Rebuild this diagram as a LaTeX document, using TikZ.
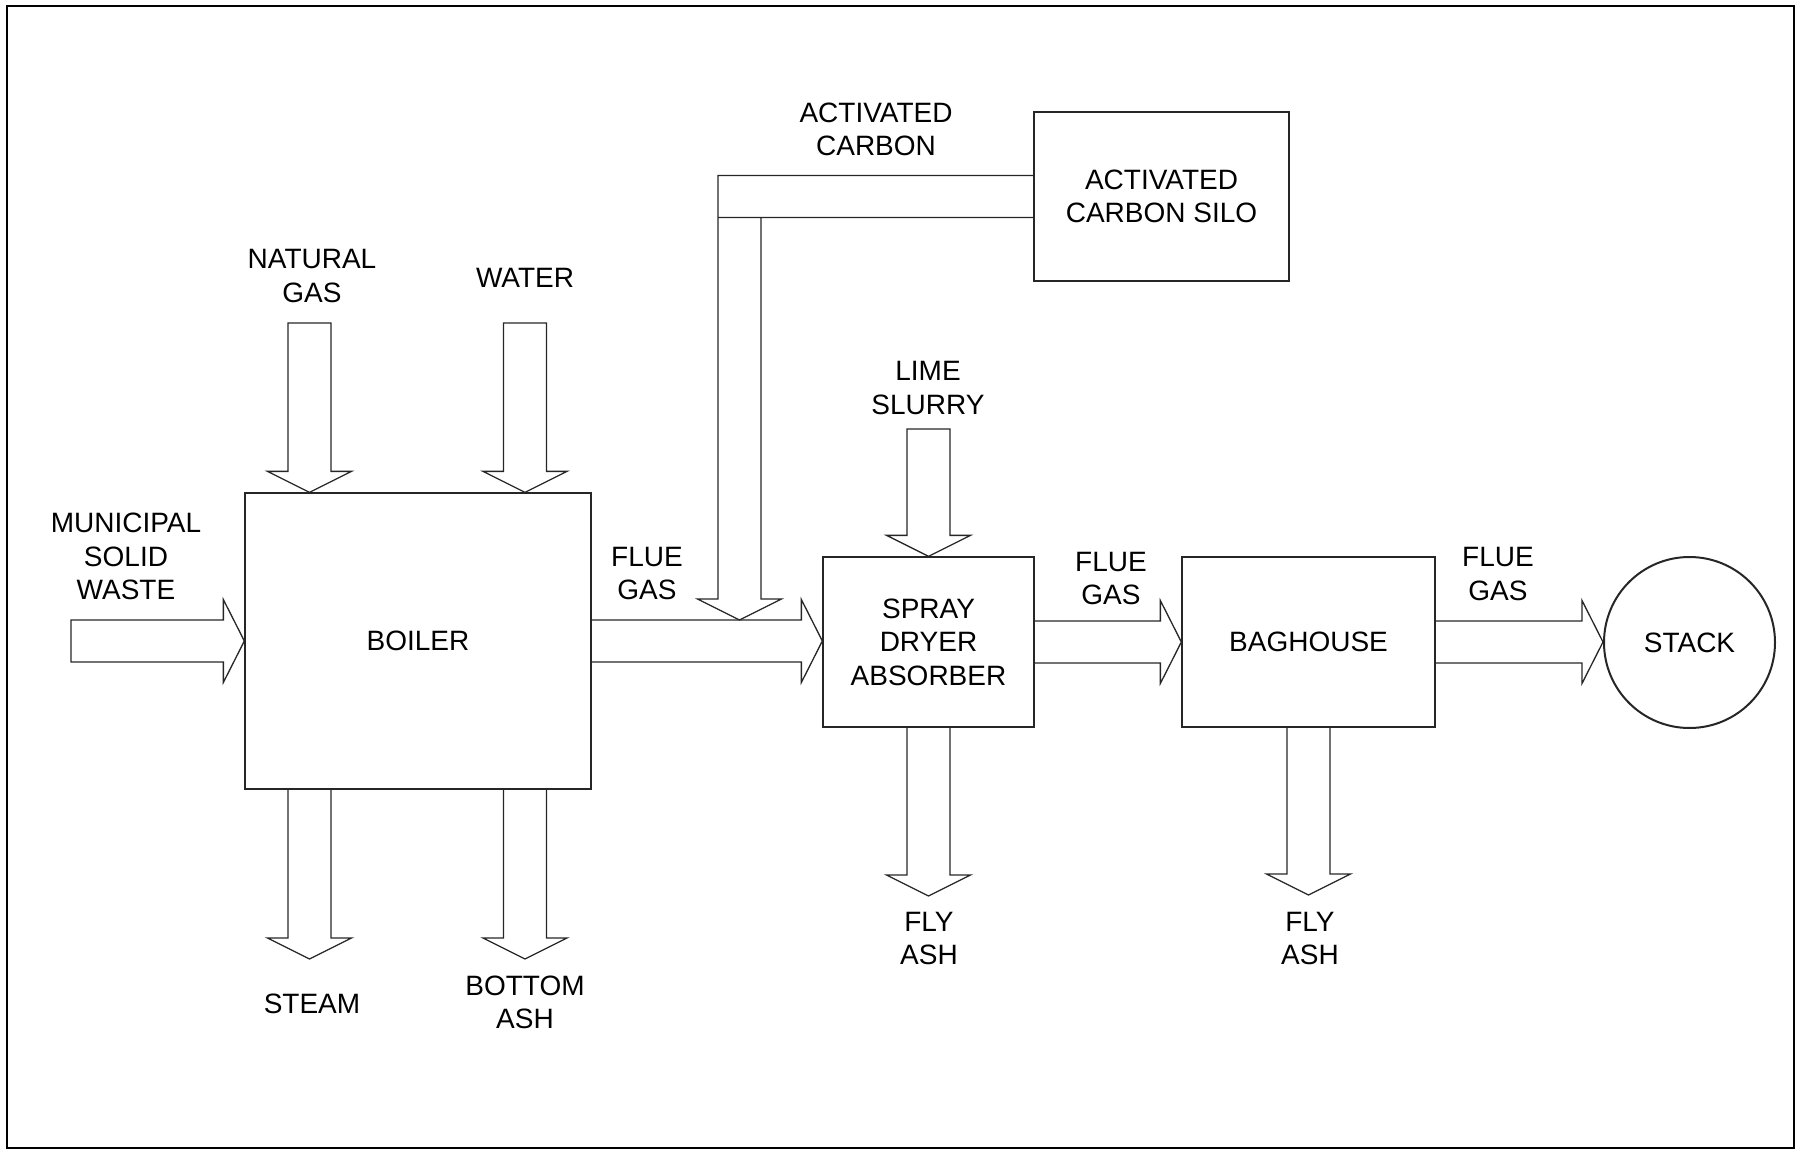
\documentclass[tikz,border=0pt]{standalone}
\usepackage{fontspec}
\setmainfont{Liberation Sans}
\usetikzlibrary{calc}
\newcommand{\lblfont}{\fontsize{14pt}{16.75pt}\selectfont}
% vertical flow arrow pointing down: #1 shaft start (centre), #2 tip, #3 closing
\newcommand{\vflow}[3]{%
  \draw[flow] let \p1=(#1), \p2=(#2) in
    (\x1-10.75pt,\y1) -- (\x1-10.75pt,\y2+10.5pt) -- (\x1-21pt,\y2+10.5pt) -- (\x1,\y2)
    -- (\x1+21pt,\y2+10.5pt) -- (\x1+10.75pt,\y2+10.5pt) -- (\x1+10.75pt,\y1) #3;}
% horizontal flow arrow pointing right: #1 shaft start (centre), #2 tip, #3 closing
\newcommand{\hflow}[3]{%
  \draw[flow] let \p1=(#1), \p2=(#2) in
    (\x1,\y1+10.5pt) -- (\x2-10.5pt,\y1+10.5pt) -- (\x2-10.5pt,\y1+20.75pt) -- (\x2,\y1)
    -- (\x2-10.5pt,\y1-20.75pt) -- (\x2-10.5pt,\y1-10.5pt) -- (\x1,\y1-10.5pt) #3;}
\begin{document}
\begin{tikzpicture}[x=0.5pt,y=-0.5pt,
  flow/.style={draw=black!85, line width=0.65pt, line join=miter},
  unit/.style={draw=black!85, line width=0.65pt, align=center, font=\lblfont, inner sep=0pt},
  lbl/.style={align=center, font=\lblfont, inner sep=0pt}]
\useasboundingbox (0,0) rectangle (1801,1151);
\draw[line width=1.2pt] (7,6) rectangle (1794,1148);

% units
\node[unit, minimum width=173pt, minimum height=148pt] (boiler) at (418,641) {BOILER};
\node[unit, minimum width=105.5pt, minimum height=85pt] (sda) at (928.5,642) {SPRAY\\DRYER\\ABSORBER};
\node[unit, minimum width=127.5pt, minimum height=84.5pt] (silo) at (1161.5,196.5) {ACTIVATED\\CARBON SILO};
\node[unit, minimum width=126.5pt, minimum height=85pt] (bag) at (1308.5,642) {BAGHOUSE};
\node[unit, circle, line width=1pt, minimum size=85.5pt] (stack) at (1689.5,642.5) {STACK};

% free ends
\coordinate (mswstart) at (71,641);
\coordinate (ngtop) at (309.5,323);
\coordinate (wtop) at (525,323);
\coordinate (steamtip) at (309.5,959);
\coordinate (ashtip) at (525,959);
\coordinate (limetop) at (928.5,429);
\coordinate (fly1tip) at (928.5,896);
\coordinate (fly2tip) at (1308.5,895);
\coordinate (actip) at (739.5,620);

% flows
\hflow{mswstart}{boiler.west}{-- cycle}
\vflow{ngtop}{boiler.north -| ngtop}{-- cycle}
\vflow{wtop}{boiler.north -| wtop}{-- cycle}
\vflow{boiler.south -| steamtip}{steamtip}{}
\vflow{boiler.south -| ashtip}{ashtip}{}
\hflow{boiler.east}{sda.west}{}
\vflow{limetop}{sda.north}{-- cycle}
\vflow{sda.south}{fly1tip}{}
\hflow{sda.east}{bag.west}{}
\vflow{bag.south}{fly2tip}{}
\hflow{bag.east}{stack.west}{}
\draw[flow] let \p1=(silo.west), \p2=(actip) in
  (\x1,\y1+10.5pt) -- (\x2-10.75pt,\y1+10.5pt) -- (\x2-10.75pt,\y2+10.5pt)
  -- (\x2-21pt,\y2+10.5pt) -- (\x2,\y2) -- (\x2+21pt,\y2+10.5pt)
  -- (\x2+10.75pt,\y2+10.5pt) -- (\x2+10.75pt,\y1-10.5pt) -- (\x1,\y1-10.5pt)
  (\x2-10.75pt,\y1-10.5pt) -- (\x2+10.75pt,\y1-10.5pt);

% labels
\node[lbl] (lmsw) at (126,556.5) {MUNICIPAL\\SOLID\\WASTE};
\node[lbl] (lng) at (312,276) {NATURAL\\GAS};
\node[lbl, anchor=base] (lwater) at (525,287) {WATER};
\node[lbl, anchor=base] (lsteam) at (312,1013) {STEAM};
\node[lbl] (lash) at (525,1002.5) {BOTTOM\\ASH};
\node[lbl] (lflue1) at (647,573.5) {FLUE\\GAS};
\node[lbl] (lac) at (876,129.5) {ACTIVATED\\CARBON};
\node[lbl] (llime) at (928,388) {LIME\\SLURRY};
\node[lbl] (lflue2) at (1111,578.5) {FLUE\\GAS};
\node[lbl] (lflue3) at (1498,574) {FLUE\\GAS};
\node[lbl] (lfly1) at (929,938.5) {FLY\\ASH};
\node[lbl] (lfly2) at (1310,938.5) {FLY\\ASH};
\end{tikzpicture}
\end{document}
